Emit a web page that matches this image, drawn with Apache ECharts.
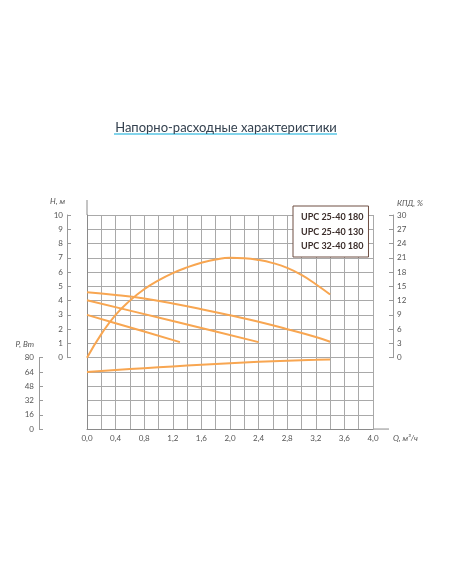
<!DOCTYPE html>
<html>
<head>
<meta charset="utf-8">
<script src="https://cdn.jsdelivr.net/npm/echarts@6/dist/echarts.min.js"></script>
<style>
html,body{margin:0;padding:0;background:#fff;}
#c{width:452px;height:584px;}
</style>
</head>
<body>
<div id="c"></div>
<script>
// ---- data ----
const chartTitle = 'Напорно-расходные характеристики';
const legendNames = ['UPC 25-40 180', 'UPC 25-40 130', 'UPC 32-40 180'];

// Head curves H, m
const qTop = [0, 0.4, 0.8, 1.2, 1.6, 2.0, 2.4, 2.8, 3.2, 3.4];
const hTop = [4.58, 4.4, 4.15, 3.8, 3.4, 2.97, 2.52, 2.0, 1.45, 1.12];      // UPC 32-40 180
const qMid = [0, 0.6, 1.2, 1.8, 2.4];
const hMid = [4.03, 3.3, 2.57, 1.83, 1.09];                                 // UPC 25-40 180
const qLow = [0, 0.4, 0.8, 1.3];
const hLow = [3.0, 2.42, 1.84, 1.09];                                       // UPC 25-40 130

// Efficiency, %
const qEff = [0, 0.2, 0.4, 0.6, 0.8, 1.0, 1.2, 1.4, 1.6, 1.8, 2.0, 2.2, 2.4, 2.6, 2.8, 3.0, 3.2, 3.4];
const eff  = [0, 4.95, 9.0, 12.0, 14.4, 16.26, 17.79, 18.99, 19.95, 20.64, 21.0, 20.91, 20.55, 19.89, 18.9, 17.4, 15.45, 13.3];

// Power, W
const qPow = [0, 0.4, 0.8, 1.2, 1.6, 2.0, 2.4, 2.8, 3.2, 3.4];
const pow  = [64, 66.2, 68.2, 70.2, 72.1, 73.9, 75.4, 76.6, 77.6, 78.1];

// tick labels
const qTicks = ['0,0', '0,4', '0,8', '1,2', '1,6', '2,0', '2,4', '2,8', '3,2', '3,6', '4,0'];
const hTicks = [0, 1, 2, 3, 4, 5, 6, 7, 8, 9, 10];
const effTicks = [0, 3, 6, 9, 12, 15, 18, 21, 24, 27, 30];
const powTicks = [0, 16, 32, 48, 64, 80];

// ---- chart ----
const FONT = 'Lato, "Open Sans", "Noto Sans", sans-serif';
const ORANGE = '#f8a651';
const GRIDC = '#a9a9a9';
const pair = (qs, vs) => qs.map((q, i) => [q, vs[i]]);

const gL = 87, gW = 286, gT = 215, unit = 14.27;
const gridMain = {left: gL, top: gT, width: gW, height: unit * 15};
const gridH = {left: gL, top: gT, width: gW, height: unit * 10};
const gridK = {left: gL, top: gT, width: gW, height: unit * 10};
const gridP = {left: gL, top: gT + unit * 10, width: gW, height: unit * 5};

const sideAxis = (extra) => Object.assign({
  type: 'value',
  axisLine: {show: true, onZero: false, lineStyle: {color: '#9a9a9a', width: 1}},
  axisTick: {show: true, inside: true, length: 4, lineStyle: {color: '#9a9a9a'}},
  splitLine: {show: false}
}, extra);

const hiddenX = (gi) => ({type: 'value', gridIndex: gi, min: 0, max: 4, show: false});

const option = {
  backgroundColor: '#fff',
  animation: false,
  title: {
    text: chartTitle, left: 'center', top: 116,
    textStyle: {fontSize: 13, fontWeight: 'normal', color: '#34414f', fontFamily: FONT}
  },
  legend: {
    data: legendNames, orient: 'vertical', left: 293, top: 206,
    icon: 'none', itemWidth: 0, itemHeight: 11, itemGap: 4.5,
    padding: [6, 5, 6, 3],
    borderColor: '#6e4e42', borderWidth: 1, backgroundColor: '#fff',
    selectedMode: false,
    textStyle: {fontSize: 9, fontWeight: 'bold', color: '#3b2d2a', fontFamily: FONT}
  },
  grid: [gridMain, gridH, gridK, gridP],
  xAxis: [
    {
      type: 'value', gridIndex: 0, min: 0, max: 4, interval: 0.2,
      axisLine: {show: true, onZero: false, lineStyle: {color: '#8a8a8a'}},
      axisTick: {show: false},
      axisLabel: {
        fontSize: 8, color: '#555', fontFamily: FONT, margin: 5,
        formatter: v => { const k = Math.round(v * 10); return k % 4 === 0 ? qTicks[k / 4] : ''; }
      },
      splitLine: {show: true, lineStyle: {color: GRIDC, width: 1}},
      name: 'Q, м³/ч', nameLocation: 'end', nameGap: 20,
      nameTextStyle: {fontSize: 8, color: '#555', fontStyle: 'italic', fontFamily: FONT, verticalAlign: 'top', padding: [5, 0, 0, 0]}
    },
    hiddenX(1), hiddenX(2), hiddenX(3)
  ],
  yAxis: [
    {
      type: 'value', gridIndex: 0, min: -5, max: 10, interval: 1,
      axisLine: {show: true, onZero: false, lineStyle: {color: '#8a8a8a'}},
      axisTick: {show: false}, axisLabel: {show: false},
      splitLine: {show: true, lineStyle: {color: GRIDC, width: 1}}
    },
    sideAxis({
      gridIndex: 1, min: 0, max: 10, interval: 1, offset: 20, position: 'left',
      axisLabel: {fontSize: 8, color: '#555', fontFamily: FONT, margin: 4, formatter: v => String(hTicks[Math.round(v)])},
      name: 'H, м', nameLocation: 'end', nameGap: 14,
      nameTextStyle: {fontSize: 8, color: '#555', fontStyle: 'italic', fontFamily: FONT, align: 'right', verticalAlign: 'middle', padding: [0, 2, 0, 0]}
    }),
    sideAxis({
      gridIndex: 2, min: 0, max: 30, interval: 3, offset: 20, position: 'right',
      axisLabel: {fontSize: 8, color: '#555', fontFamily: FONT, margin: 4, formatter: v => String(effTicks[Math.round(v / 3)])},
      name: 'КПД, %', nameLocation: 'end', nameGap: 12,
      nameTextStyle: {fontSize: 8, color: '#555', fontStyle: 'italic', fontFamily: FONT, align: 'left', verticalAlign: 'middle', padding: [0, 0, 0, 4]}
    }),
    sideAxis({
      gridIndex: 3, min: 0, max: 80, interval: 16, offset: 48, position: 'left',
      axisLabel: {fontSize: 8, color: '#555', fontFamily: FONT, margin: 5, formatter: v => String(powTicks[Math.round(v / 16)])},
      name: 'P, Вт', nameLocation: 'end', nameGap: 13,
      nameTextStyle: {fontSize: 8, color: '#555', fontStyle: 'italic', fontFamily: FONT, align: 'right', verticalAlign: 'middle', padding: [0, 5, 0, 0]}
    })
  ],
  series: [
    {name: legendNames[0], type: 'line', xAxisIndex: 1, yAxisIndex: 1, data: pair(qMid, hMid),
      showSymbol: false, clip: false, lineStyle: {color: ORANGE, width: 2}, itemStyle: {color: ORANGE}},
    {name: legendNames[1], type: 'line', xAxisIndex: 1, yAxisIndex: 1, data: pair(qLow, hLow),
      showSymbol: false, clip: false, lineStyle: {color: ORANGE, width: 2}, itemStyle: {color: ORANGE}},
    {name: legendNames[2], type: 'line', xAxisIndex: 1, yAxisIndex: 1, data: pair(qTop, hTop), smooth: true,
      showSymbol: false, clip: false, lineStyle: {color: ORANGE, width: 2}, itemStyle: {color: ORANGE}},
    {name: 'КПД', type: 'line', xAxisIndex: 2, yAxisIndex: 2, data: pair(qEff, eff), smooth: true,
      showSymbol: false, clip: false, lineStyle: {color: ORANGE, width: 2}, itemStyle: {color: ORANGE}},
    {name: 'P', type: 'line', xAxisIndex: 3, yAxisIndex: 3, data: pair(qPow, pow), smooth: true,
      showSymbol: false, clip: false, lineStyle: {color: ORANGE, width: 2}, itemStyle: {color: ORANGE}}
  ],
  graphic: [
    {type: 'line', shape: {x1: 114, y1: 134, x2: 337, y2: 134}, style: {stroke: '#58c6e5', lineWidth: 1.5}},
    {type: 'line', shape: {x1: gL, y1: 200, x2: gL, y2: gT}, style: {stroke: '#8a8a8a', lineWidth: 1}},
    {type: 'line', shape: {x1: gL + gW, y1: gT + unit * 15, x2: gL + gW + 16, y2: gT + unit * 15}, style: {stroke: '#8a8a8a', lineWidth: 1}}
  ]
};

const chart = echarts.init(document.getElementById('c'), null, {renderer: 'canvas'});
chart.setOption(option);
</script>
</body>
</html>
